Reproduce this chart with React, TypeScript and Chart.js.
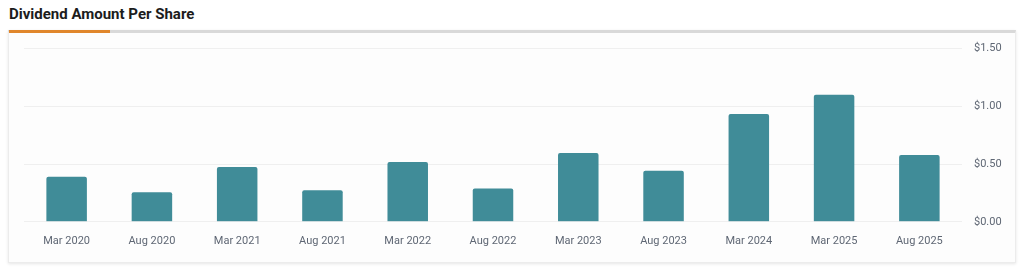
import React, { useEffect, useRef } from "react";
import { Chart, registerables } from "chart.js";

Chart.register(...registerables);

const title = "Dividend Amount Per Share";
const categories = [
  "Mar 2020", "Aug 2020", "Mar 2021", "Aug 2021", "Mar 2022", "Aug 2022",
  "Mar 2023", "Aug 2023", "Mar 2024", "Mar 2025", "Aug 2025",
];
const dividends = [0.39, 0.256, 0.474, 0.274, 0.518, 0.288, 0.596, 0.442, 0.933, 1.1, 0.579];
const yTicks = [0, 0.5, 1.0, 1.5];

export default function App() {
  const ref = useRef<HTMLCanvasElement | null>(null);

  useEffect(() => {
    if (!ref.current) return;
    const chart = new Chart(ref.current, {
      type: "bar",
      data: {
        labels: categories,
        datasets: [
          {
            data: dividends,
            backgroundColor: "#408c98",
            borderRadius: 2,
            borderSkipped: "bottom",
            categoryPercentage: 1,
            barPercentage: 0.475,
          },
        ],
      },
      options: {
        animation: false,
        responsive: false,
        maintainAspectRatio: false,
        plugins: { legend: { display: false }, tooltip: { enabled: false } },
        layout: { padding: { left: 15, top: 10, right: 0, bottom: 1 } },
        scales: {
          x: {
            grid: { display: false, drawTicks: false },
            border: { display: false },
            ticks: {
              color: "#5f6774",
              font: { family: "Roboto", size: 11 },
              padding: 13,
              maxRotation: 0,
              autoSkip: false,
            },
          },
          y: {
            position: "right",
            min: yTicks[0],
            max: yTicks[yTicks.length - 1],
            afterBuildTicks: (scale: any) => {
              scale.ticks = yTicks.map((v) => ({ value: v }));
            },
            afterFit: (scale: any) => {
              scale.width = 53;
            },
            grid: { color: "#efefef", lineWidth: 1, drawTicks: false },
            border: { display: false },
            ticks: {
              color: "#5f6774",
              font: { family: "Roboto", size: 11 },
              padding: 12,
              callback: (v: any) => "$" + Number(v).toFixed(2),
            },
          },
        },
      },
    });
    return () => chart.destroy();
  }, []);

  return (
    <div
      style={{
        position: "fixed",
        left: 0,
        top: 0,
        width: 1024,
        height: 271,
        background: "#ffffff",
        fontFamily: "Roboto, sans-serif",
        overflow: "hidden",
      }}
    >
      <div
        style={{
          position: "absolute",
          left: 9,
          top: 3,
          fontSize: 15,
          fontWeight: 700,
          color: "#1c1c1c",
          lineHeight: "22px",
          whiteSpace: "nowrap",
        }}
      >
        {title}
      </div>
      <div
        style={{
          position: "absolute",
          left: 8,
          top: 30,
          width: 1008,
          height: 233,
          boxSizing: "border-box",
          borderLeft: "1px solid #ececec",
          borderRight: "1px solid #ececec",
          borderBottom: "1px solid #ececec",
          borderTop: "3px solid #d9d9d9",
          boxShadow: "0 1px 3px rgba(0,0,0,0.10)",
          background: "#fdfdfd",
        }}
      />
      <div
        style={{
          position: "absolute",
          left: 9,
          top: 30,
          width: 101,
          height: 3,
          background: "#e0862b",
        }}
      />
      <canvas
        ref={ref}
        width={1006}
        height={232}
        style={{ position: "absolute", left: 9, top: 30, width: 1006, height: 232 }}
      />
    </div>
  );
}
